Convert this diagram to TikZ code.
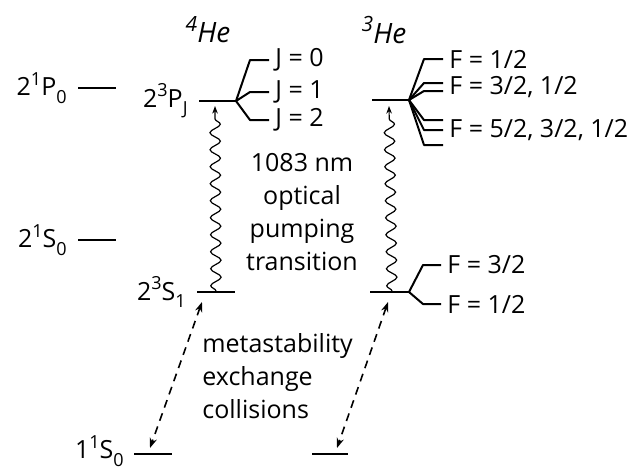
\documentclass[tikz,border=0pt]{standalone}
\usepackage{fontspec}
\setmainfont{Open Sans}
\usetikzlibrary{arrows,arrows.meta,positioning,calc,decorations.pathmorphing}

\newcommand\upidx[1]{\raisebox{0.42em}{\fontsize{9pt}{9pt}\selectfont #1}}
\newcommand\loidx[1]{\raisebox{-0.3em}{\fontsize{9pt}{9pt}\selectfont #1}}
\newcommand\isoidx[1]{\raisebox{0.4em}{\fontsize{10.5pt}{10.5pt}\selectfont #1}}

\begin{document}
\begin{tikzpicture}[
    x=0.5pt,y=-0.5pt,
    font=\fontsize{12.5pt}{16.5pt}\selectfont,
    level/.style={line width=1pt},
    branch/.style={line width=1pt,line join=round},
    term/.style={inner sep=0pt},
    lbl/.style={anchor=west,inner xsep=3pt,inner ysep=0pt},
    iso/.style={inner sep=0pt,font=\fontsize{14pt}{16pt}\selectfont\itshape},
    wave/.style={-{Stealth[length=3.8pt,width=2.8pt]},line width=0.6pt,decorate,
        decoration={snake,amplitude=2.6pt,segment length=8.5pt,post length=5pt}},
    exch/.style={{Stealth[length=5pt,width=3.6pt]}-{Stealth[length=5pt,width=3.6pt]},
        line width=0.8pt,dash pattern=on 4pt off 3pt}
]
    \useasboundingbox (0,0) rectangle (643,468);

    % isotopes
    \node[iso] (he4) at (208,30) {\isoidx{4}He};
    \node[iso] (he3) at (384,30) {\isoidx{3}He};

    % singlet levels
    \coordinate (p1a) at (78,88);   \coordinate (p1b) at (116,88);
    \coordinate (s1a) at (78,240);  \coordinate (s1b) at (116,240);
    \draw[level] (p1a) -- (p1b);
    \draw[level] (s1a) -- (s1b);
    \node[term,left=5.5pt of p1a] (p1) {2\upidx{1}P\loidx{0}};
    \node[term,left=5.5pt of s1a] (s1) {2\upidx{1}S\loidx{0}};

    % 4He triplet levels
    \coordinate (p4a) at (199,101); \coordinate (p4b) at (236,101);
    \coordinate (s4a) at (197,292); \coordinate (s4b) at (235,292);
    \coordinate (g4a) at (134,454); \coordinate (g4b) at (172,454);
    \draw[level] (p4a) -- (p4b);
    \draw[level] (s4a) -- (s4b);
    \draw[level] (g4a) -- (g4b);
    \node[term,left=5.5pt of p4a] (p4) {2\upidx{3}P\loidx{J}};
    \node[term,left=5.5pt of s4a] (s4) {2\upidx{3}S\loidx{1}};
    \node[term,left=5pt of g4a,yshift=1.5pt] (g4) {1\upidx{1}S\loidx{0}};

    \node[lbl] (j0) at (269,60) {J = 0};
    \node[lbl] (j1) at (269,92) {J = 1};
    \node[lbl] (j2) at (269,120) {J = 2};
    \foreach \j in {j0,j1,j2}
        \draw[branch] (p4b) -- ($(\j.west)+(-19,0)$) -- (\j.west);

    % 3He levels
    \coordinate (p3a) at (372,100); \coordinate (p3b) at (409,100);
    \coordinate (s3a) at (370,292); \coordinate (s3b) at (409,292);
    \coordinate (g3a) at (312,454); \coordinate (g3b) at (348,454);
    \draw[level] (p3a) -- (p3b);
    \draw[level] (s3a) -- (s3b);
    \draw[level] (g3a) -- (g3b);

    \node[lbl] (f1) at (443,59) {F = 1/2};
    \node[lbl] (f2) at (443,87) {F = 3/2, 1/2};
    \node[lbl] (f3) at (443,130) {F = 5/2, 3/2, 1/2};
    \foreach \f/\d in {f1/0,f2/-4,f2/4,f3/-10,f3/0,f3/15}
        \draw[branch] (p3b) -- ($(\f.west)+(-19,\d)$) -- ($(\f.west)+(0,\d)$);

    \node[lbl] (f4) at (441,265) {F = 3/2};
    \node[lbl] (f5) at (441,304) {F = 1/2};
    \foreach \f in {f4,f5}
        \draw[branch] (s3b) -- ($(\f.west)+(-18,0)$) -- (\f.west);

    % optical pumping
    \coordinate (w4b) at (216,291); \coordinate (w4t) at (215,106);
    \coordinate (w3b) at (392,291); \coordinate (w3t) at (389,106);
    \draw[wave] (w4b) -- (w4t);
    \draw[wave] (w3b) -- (w3t);
    \node[align=center] (opt) at (302,212) {1083 nm\\optical\\pumping\\transition};

    % metastability exchange
    \coordinate (x4t) at (202,302); \coordinate (x4b) at (150,448);
    \coordinate (x3t) at (388,302); \coordinate (x3b) at (337,448);
    \draw[exch] (x4t) -- (x4b);
    \draw[exch] (x3t) -- (x3b);
    \node[align=left,anchor=west,inner sep=0pt] (mex) at (202,376) {metastability\\exchange\\collisions};
\end{tikzpicture}
\end{document}
